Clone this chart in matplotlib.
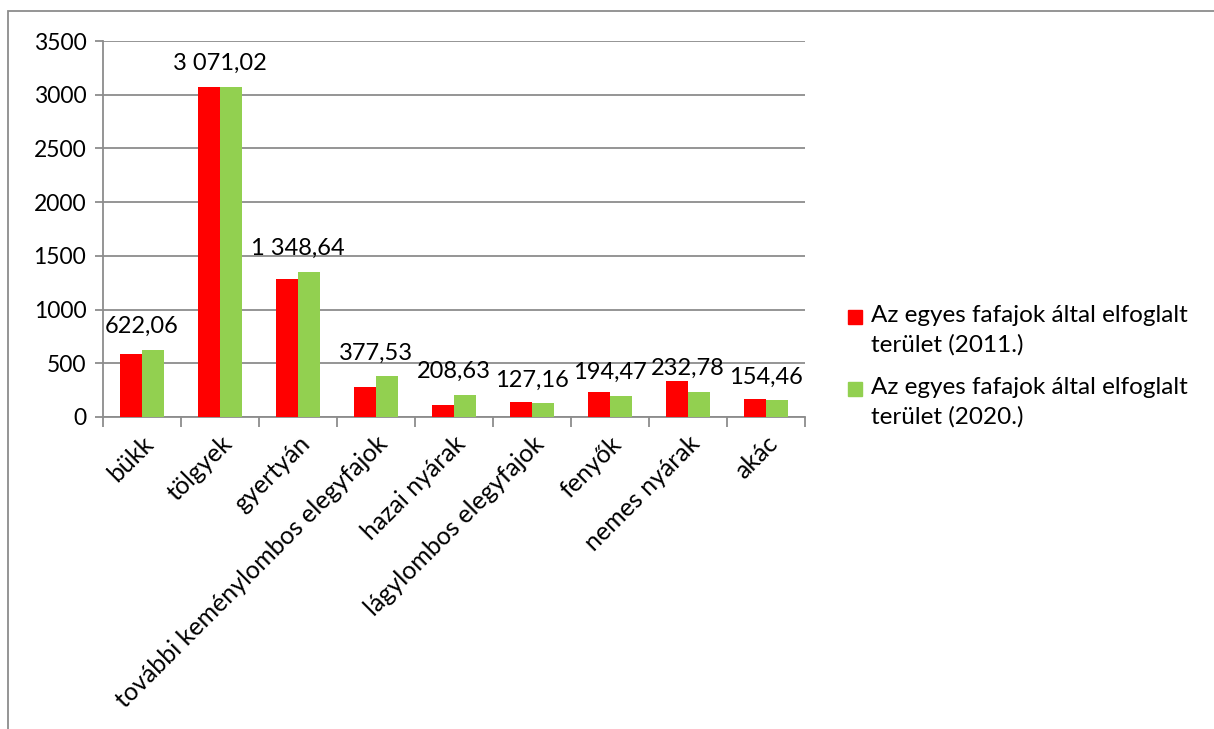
import matplotlib
matplotlib.use("Agg")
import matplotlib.pyplot as plt
import numpy as np
from matplotlib.patches import Rectangle

categories = ["bükk", "tölgyek", "gyertyán", "további keménylombos elegyfajok",
              "hazai nyárak", "lágylombos elegyfajok", "fenyők", "nemes nyárak", "akác"]
area_2011 = [583, 3075, 1282, 283, 108, 135, 230, 338, 166]
area_2020 = [622.06, 3071.02, 1348.64, 377.53, 208.63, 127.16, 194.47, 232.78, 154.46]
labels_2020 = ["622,06", "3 071,02", "1 348,64", "377,53", "208,63",
               "127,16", "194,47", "232,78", "154,46"]
series_names = ["Az egyes fafajok által elfoglalt\nterület (2011.)",
                "Az egyes fafajok által elfoglalt\nterület (2020.)"]
y_ticks = [0, 500, 1000, 1500, 2000, 2500, 3000, 3500]

RED = "#ff0000"
GREEN = "#92d050"
GRID = "#8c8c8c"

plt.rcParams["font.family"] = ["Lato", "DejaVu Sans"]

W, H = 1214, 729
fig = plt.figure(figsize=(W / 100, H / 100), dpi=100)
ax = fig.add_axes([103 / W, 1 - 417 / H, (805 - 103) / W, (417 - 41) / H])

x = np.arange(len(categories))
bw = 0.28
ax.bar(x - bw / 2, area_2011, bw, color=RED, zorder=3)
ax.bar(x + bw / 2, area_2020, bw, color=GREEN, zorder=3)

for xi, v, lab in zip(x, area_2020, labels_2020):
    ax.text(xi, v + 120, lab, ha="center", va="bottom", fontsize=17, zorder=4)

ax.set_xlim(-0.5, len(categories) - 0.5)
ax.set_ylim(0, 3500)
ax.set_yticks(y_ticks)
ax.set_yticklabels([str(t) for t in y_ticks], fontsize=16.5)
ax.yaxis.grid(True, color=GRID, linewidth=1.3, zorder=0)
ax.tick_params(axis="y", length=6, color=GRID, width=1.3, pad=6)

ax.set_xticks(np.arange(len(categories) + 1) - 0.5)
ax.set_xticklabels([])
ax.tick_params(axis="x", length=7, color=GRID, width=1.3)
for xi, name in zip(x, categories):
    ax.text(xi, -140, name, rotation=45, ha="right", va="top",
            rotation_mode="anchor", fontsize=18)

for side in ["top", "right"]:
    ax.spines[side].set_visible(False)
for side in ["left", "bottom"]:
    ax.spines[side].set_color(GRID)
    ax.spines[side].set_linewidth(1.3)

# legend drawn by hand so the square sits on the first text line
for i, (name, color) in enumerate(zip(series_names, [RED, GREEN])):
    y_top = 308 + i * 72
    fig.patches.append(Rectangle((848 / W, 1 - (y_top + 16) / H), 14 / W, 14 / H,
                                 transform=fig.transFigure, color=color))
    fig.text(871 / W, 1 - (y_top - 3) / H, name, ha="left", va="top",
             fontsize=17.5, linespacing=1.45)

fig.patches.append(Rectangle((8 / W, -0.1), 1.2, 1 - 11 / H + 0.1,
                             transform=fig.transFigure, fill=False,
                             edgecolor=GRID, linewidth=1.3))

fig.savefig("out.png", dpi=100)
